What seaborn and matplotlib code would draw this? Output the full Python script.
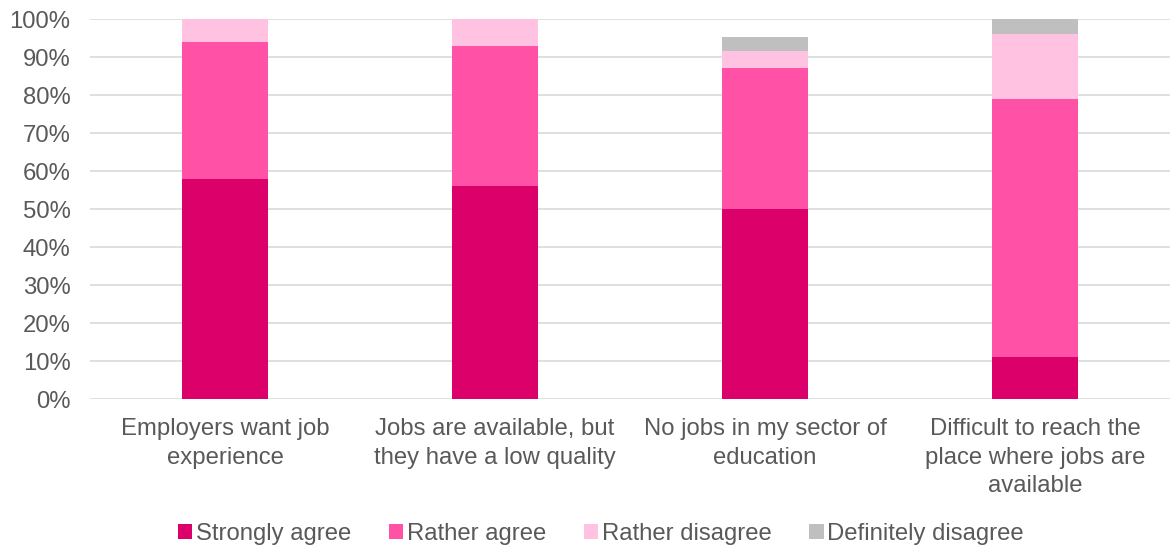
import matplotlib
matplotlib.use("Agg")
import matplotlib.pyplot as plt
import seaborn as sns
import numpy as np
import pandas as pd
from matplotlib.patches import Patch

categories = ["Employers want job\nexperience",
              "Jobs are available, but\nthey have a low quality",
              "No jobs in my sector of\neducation",
              "Difficult to reach the\nplace where jobs are\navailable"]
strongly_agree = [58, 56, 50, 11]
rather_agree = [36, 37, 37, 68]
rather_disagree = [6, 7, 4.7, 17]
definitely_disagree = [0, 0, 3.5, 4]
series_names = ["Strongly agree", "Rather agree", "Rather disagree", "Definitely disagree"]
colors = ["#DC006B", "#FF52A6", "#FFC3E1", "#BFBFBF"]

sns.set_theme(style="white")
plt.rcParams['font.family'] = ['Liberation Sans', 'DejaVu Sans']
text_color = "#595959"
fs = 17.2

fig = plt.figure(figsize=(11.7, 5.49), dpi=100)
ax = fig.add_axes([90/1170, 1-399/549, 1080/1170, 380/549])

series = [strongly_agree, rather_agree, rather_disagree, definitely_disagree]
cum = np.cumsum(np.array(series, dtype=float), axis=0)
df_base = pd.DataFrame({"cat": categories})
for i in range(len(series) - 1, -1, -1):
    d = df_base.copy()
    d["val"] = cum[i]
    sns.barplot(data=d, x="cat", y="val", color=colors[i], width=0.32,
                saturation=1, ax=ax, zorder=3, linewidth=0)

ax.set_xlim(-0.5, 3.5)
ax.set_ylim(0, 100)
ax.set_yticks(np.arange(0, 101, 10))
ax.set_yticklabels([f"{v}%" for v in range(0, 101, 10)])
ax.yaxis.grid(True, color="#D9D9D9", linewidth=1.2, zorder=0)
ax.set_axisbelow(True)
for s in ax.spines.values():
    s.set_visible(False)
ax.set_xlabel("")
ax.set_ylabel("")
ax.tick_params(axis="both", length=0, labelsize=fs, colors=text_color)
ax.tick_params(axis="x", pad=14)
ax.tick_params(axis="y", pad=14)
for lab in ax.get_xticklabels():
    lab.set_linespacing(1.37)

handles = [Patch(facecolor=c, edgecolor="none") for c in colors]
fig.legend(handles, series_names, loc="center", bbox_to_anchor=(601/1170, 1-534/549),
           ncol=4, frameon=False, fontsize=fs, labelcolor=text_color,
           handlelength=0.6, handleheight=0.6, handletextpad=0.15, columnspacing=1.58)

fig.savefig("out.png", dpi=100)
